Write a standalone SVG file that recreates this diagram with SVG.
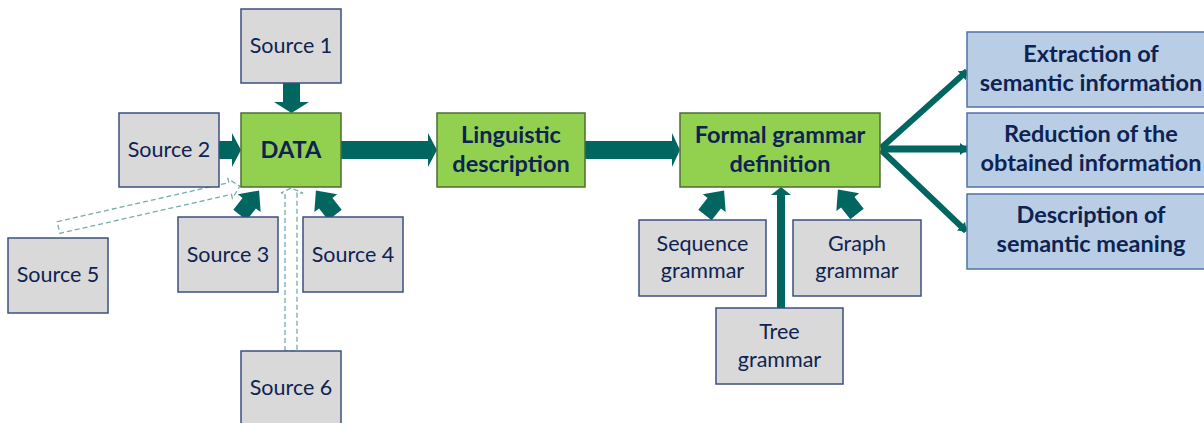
<svg xmlns="http://www.w3.org/2000/svg" width="1204" height="423" viewBox="0 0 1204 423">
<defs>
<style>
.src rect{fill:#d9d9d9;stroke:#3b4f7f;stroke-width:1.5}
.grn rect{fill:#92d050;stroke:#4d6e34;stroke-width:1.5}
.blu rect{fill:#b9cde5;stroke:#4f72a8;stroke-width:1.5}
text{font-family:Lato,"Open Sans",sans-serif;fill:#0e2352;text-anchor:middle}
.src text{font-size:21.5px}
.grn text,.blu text{font-size:23.5px;font-weight:bold}
.blk{fill:#00665f}
.dash{fill:none;stroke:#78aca8;stroke-width:1.3;stroke-dasharray:5 3}
.thin{stroke:#00665f;fill:none}
</style>
<marker id="sh" markerUnits="userSpaceOnUse" markerWidth="8" markerHeight="12" refX="7" refY="6" orient="auto">
<path d="M0,0 L8,6 L0,12 z" fill="#00665f"/>
</marker>
<path id="da" d="M0,-8.5 L15,-8.5 L15,-14.5 L31,0 L15,14.5 L15,8.5 L0,8.5 z"/>
</defs>

<g id="connectors">
<polygon class="blk" points="283,83 300,83 300,102 309,102 291.5,113 274,102 283,102"/>
<polygon class="blk" points="219,141 232,141 232,133 241,150 232,167 232,159 219,159"/>
<polygon class="blk" points="341,141 428,141 428,133 437,150 428,167 428,159 341,159"/>
<polygon class="blk" points="585,141 672,141 672,133 680,150 672,167 672,159 585,159"/>
<use href="#da" class="blk" transform="translate(240,215) rotate(-52)"/>
<use href="#da" class="blk" transform="translate(335,215) rotate(-128)"/>
<use href="#da" class="blk" transform="translate(705,215) rotate(-52)"/>
<use href="#da" class="blk" transform="translate(857,214) rotate(-128)"/>
<polygon class="blk" points="777,308 777,195 771,195 781,187 791,195 785,195 785,308"/>
<polygon class="dash" transform="translate(58.5,227.5) rotate(-12.8)" points="0,-6 176,-6 176,-10 186,0 176,10 176,6 0,6"/>
<polygon class="dash" points="285,351 285,193 281,193 291,188 303,193 297,193 297,351"/>
<line class="thin" x1="881" y1="148" x2="967" y2="71" stroke-width="6" marker-end="url(#sh)"/>
<line class="thin" x1="881" y1="149" x2="967" y2="149" stroke-width="7" marker-end="url(#sh)"/>
<line class="thin" x1="881" y1="150" x2="966" y2="231" stroke-width="6" marker-end="url(#sh)"/>
</g>

<g id="source1" class="src"><rect x="241" y="9" width="100" height="74"/><text x="291" y="53">Source 1</text></g>
<g id="source2" class="src"><rect x="119" y="113" width="100" height="74"/><text x="169" y="157">Source 2</text></g>
<g id="source3" class="src"><rect x="178" y="217" width="100" height="75"/><text x="228" y="262">Source 3</text></g>
<g id="source4" class="src"><rect x="303" y="217" width="100" height="75"/><text x="353" y="262">Source 4</text></g>
<g id="source5" class="src"><rect x="8" y="238" width="100" height="75"/><text x="58" y="282">Source 5</text></g>
<g id="source6" class="src"><rect x="241" y="351" width="100" height="80"/><text x="291" y="395">Source 6</text></g>

<g id="data" class="grn"><rect x="241" y="113" width="100" height="74"/><text x="291" y="158">DATA</text></g>
<g id="linguistic" class="grn"><rect x="437" y="113" width="148" height="74"/><text x="511" y="143">Linguistic</text><text x="511" y="172">description</text></g>
<g id="formal" class="grn"><rect x="680" y="113" width="200" height="74"/><text x="780" y="143">Formal grammar</text><text x="780" y="172">definition</text></g>

<g id="sequence" class="src"><rect x="639" y="220" width="127" height="76"/><text x="702.5" y="251">Sequence</text><text x="702.5" y="278">grammar</text></g>
<g id="graph" class="src"><rect x="793" y="220" width="128" height="76"/><text x="857" y="251">Graph</text><text x="857" y="278">grammar</text></g>
<g id="tree" class="src"><rect x="716" y="308" width="127" height="76"/><text x="779.5" y="339">Tree</text><text x="779.5" y="367">grammar</text></g>

<g id="extraction" class="blu"><rect x="967" y="32" width="250" height="75"/><text x="1091" y="62">Extraction of</text><text x="1091" y="91">semantic information</text></g>
<g id="reduction" class="blu"><rect x="967" y="113" width="250" height="74"/><text x="1091" y="142">Reduction of the</text><text x="1091" y="171">obtained information</text></g>
<g id="descr" class="blu"><rect x="967" y="194" width="250" height="75"/><text x="1091" y="223">Description of</text><text x="1091" y="252">semantic meaning</text></g>
</svg>
